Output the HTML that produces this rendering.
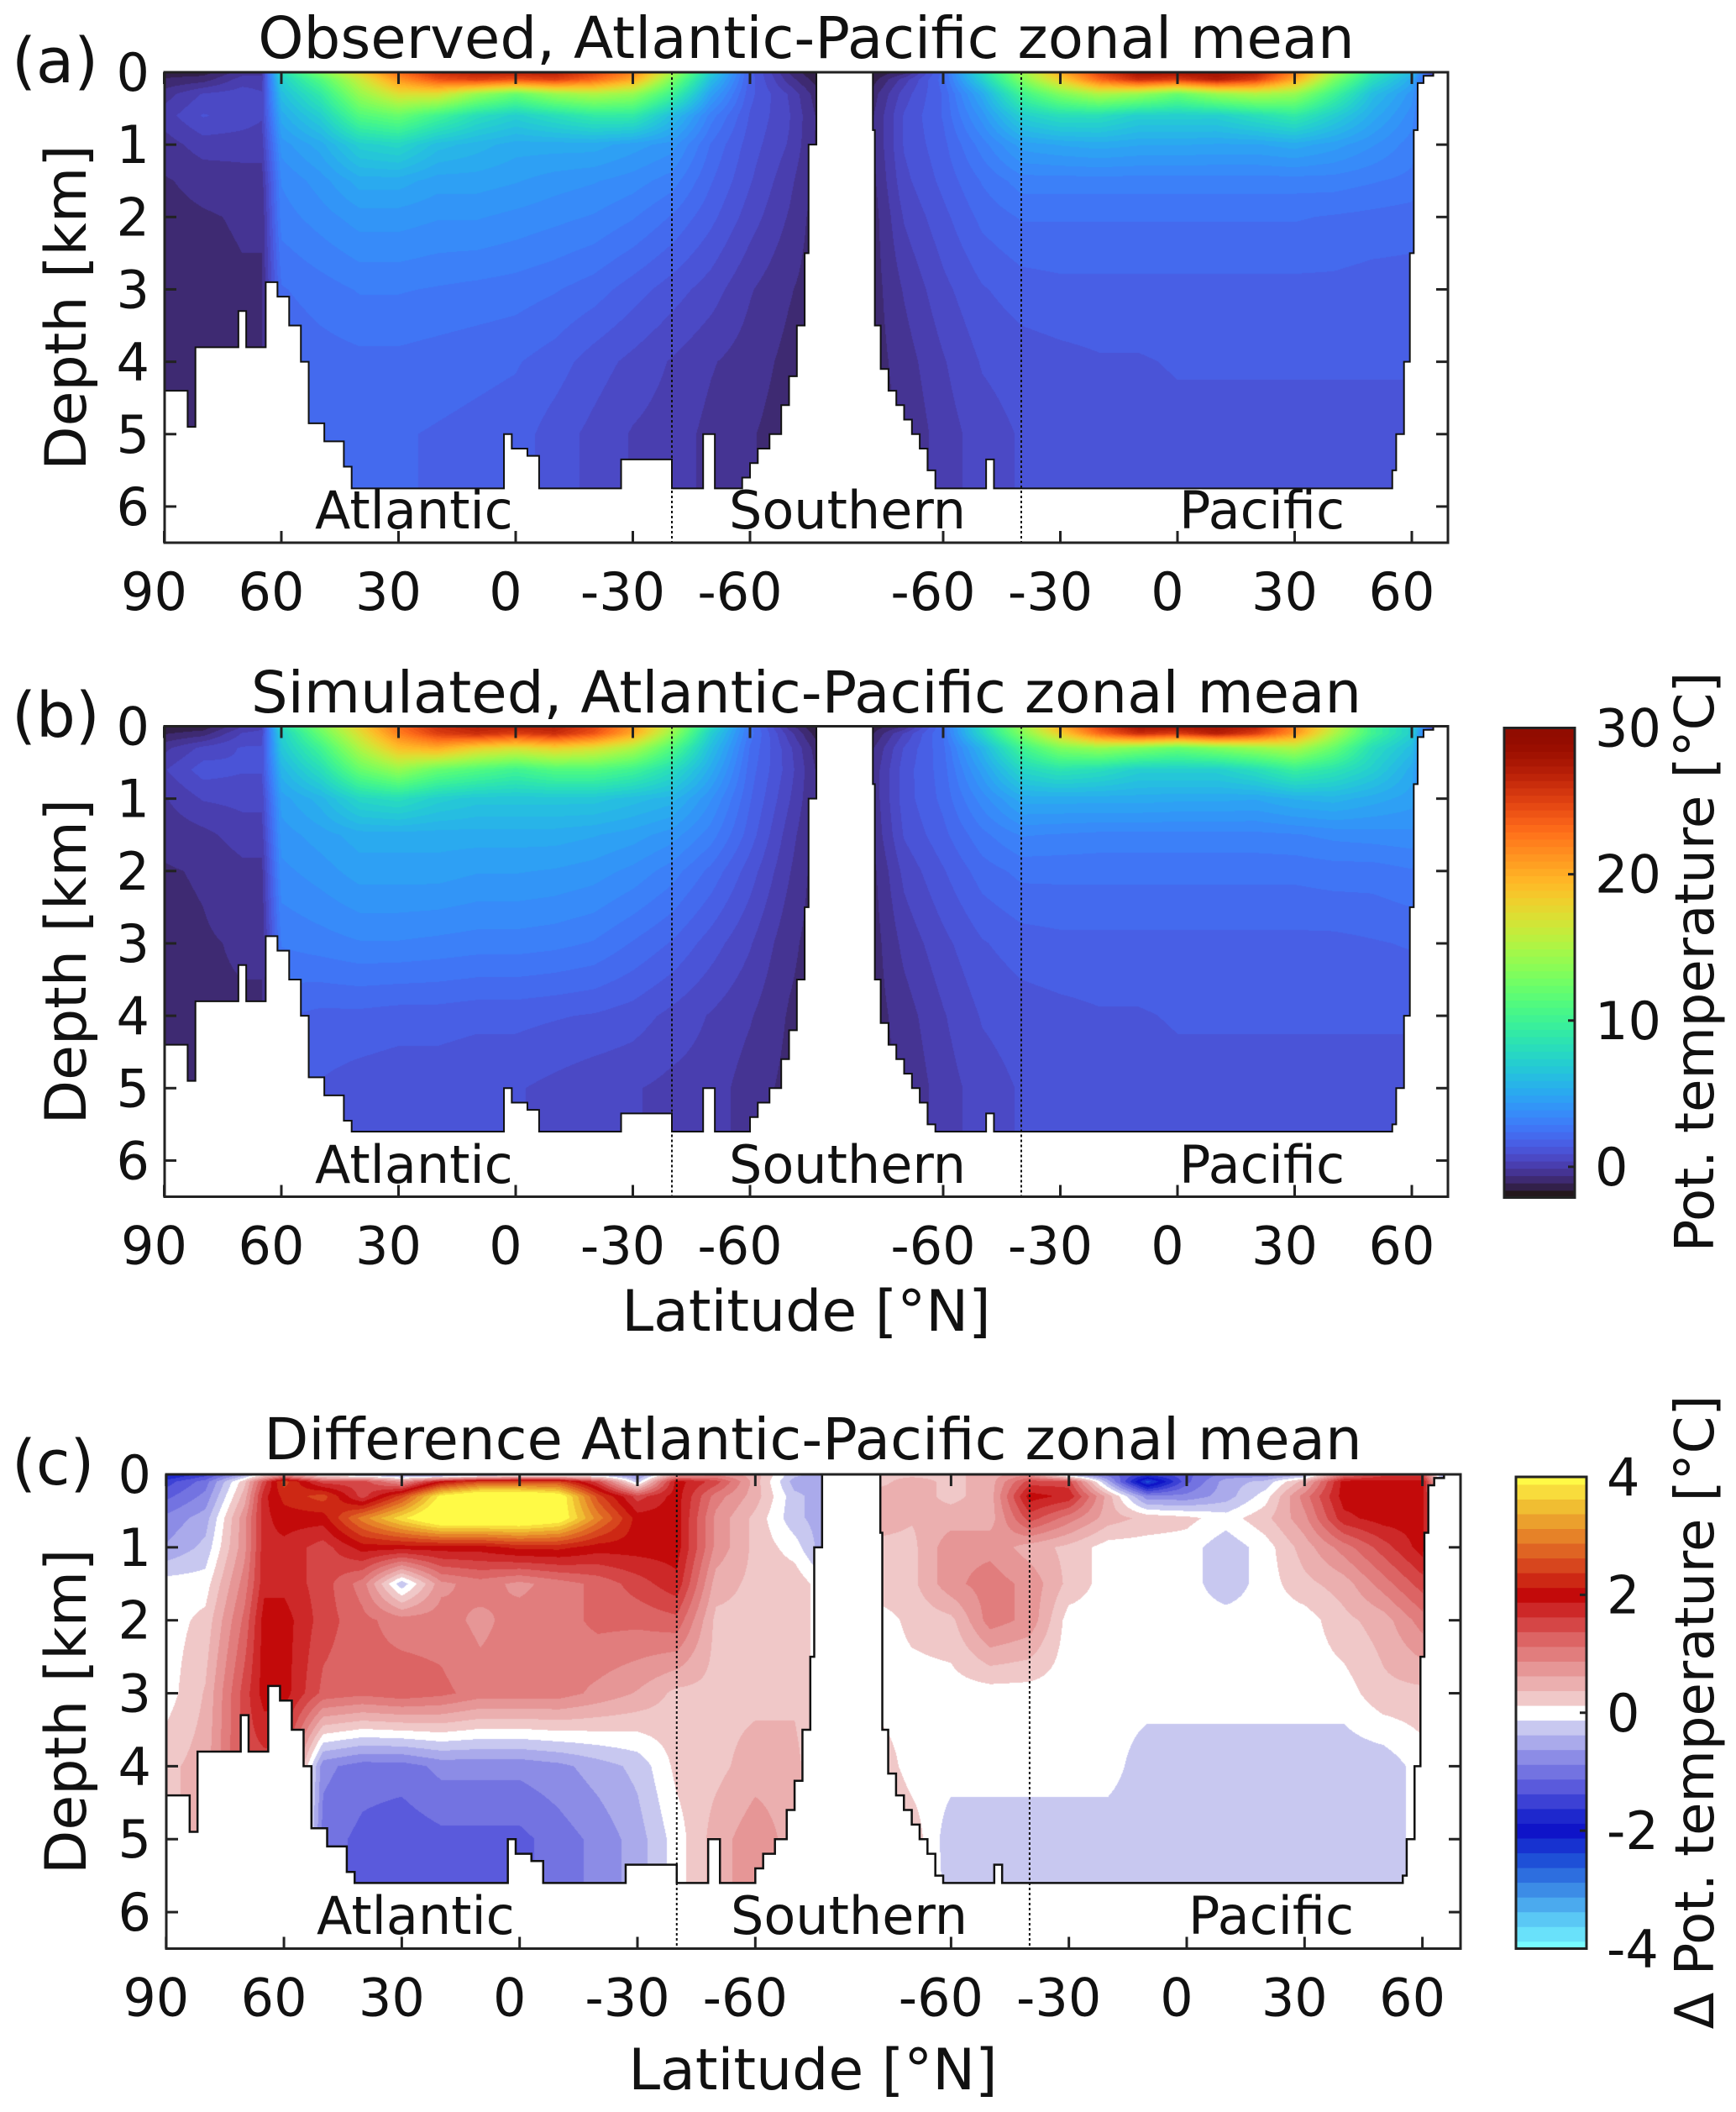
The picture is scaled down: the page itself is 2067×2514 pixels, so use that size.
<!DOCTYPE html>
<html><head><meta charset="utf-8"><style>
html,body{margin:0;padding:0;background:#fff;}
#wrap{position:relative;width:2067px;height:2514px;overflow:hidden;}
canvas,svg{position:absolute;left:0;top:0;}
text{font-family:"DejaVu Sans","Liberation Sans",sans-serif;fill:#111;}
</style></head><body>
<div id="wrap">
<canvas id="cv" width="2067" height="2514"></canvas>
<svg id="sv" width="2067" height="2514" xmlns="http://www.w3.org/2000/svg">
<text x="14" y="98" font-size="74">(a)</text>
<text x="960" y="69" font-size="69" text-anchor="middle">Observed, Atlantic-Pacific zonal mean</text>
<text x="14" y="877" font-size="74">(b)</text>
<text x="960" y="848" font-size="69" text-anchor="middle">Simulated, Atlantic-Pacific zonal mean</text>
<text x="14" y="1767" font-size="74">(c)</text>
<text x="968" y="1737" font-size="69" text-anchor="middle">Difference Atlantic-Pacific zonal mean</text>
<text x="960" y="1584" font-size="68" text-anchor="middle">Latitude [°N]</text>
<text x="968" y="2487" font-size="68" text-anchor="middle">Latitude [°N]</text>
<text transform="translate(2040,1145) rotate(-90)" font-size="64" text-anchor="middle">Pot. temperature [°C]</text>
<text transform="translate(2040,2038) rotate(-90)" font-size="64" text-anchor="middle">Δ Pot. temperature [°C]</text>
</svg>
</div>
<script>
// ---------- data ----------
const depths = [0,0.1,0.3,0.6,1,1.5,2,3,4,5,6];
const latsA = [90,80,70,65,60,50,40,30,20,10,0,-10,-20,-30,-40,-50,-60,-70,-77];
const latsP = [-78,-70,-60,-50,-40,-30,-20,-10,0,10,20,30,40,50,60,66];
// observed temperature, Atlantic side (one profile per latitude)
const obsA = [
[-1.5,-1.2,-0.5,0,-0.5,-0.8,-0.9,-0.9,-0.9,-0.9,-0.9],
[-1.5,-1,0.3,0.8,0,-0.6,-0.8,-0.9,-0.9,-0.9,-0.9],
[-0.5,0,0.5,0.5,0,-0.5,-0.7,-0.8,-0.8,-0.8,-0.8],
[-0.5,0,0.3,0.3,0,-0.5,-0.7,-0.8,-0.8,-0.8,-0.8],
[8,7,6,5,4,3.3,3,2.2,1.8,1.6,1.6],
[13,11,9,7,5,4,3.5,2.5,2,1.8,1.8],
[18,16,14,11,7,5,4,2.8,2.1,1.8,1.8],
[23,21,17,12,7.5,5,4,2.8,2.1,1.8,1.8],
[26,24,17,10,6,4.5,3.8,2.7,2,1.7,1.7],
[27,25,14,8,5.5,4.5,3.8,2.6,1.9,1.6,1.6],
[27,24,12,7,5,4.3,3.6,2.5,1.8,1.5,1.5],
[27,25,14,8,5,4,3.4,2.3,1.5,1,1],
[25,23,15,9,5,3.8,3.2,2,1,0.6,0.6],
[22,20,14,9,4.5,3.5,2.8,1.5,0.6,0.2,0.2],
[15,13,10,6,4,3,2.2,1,0.2,0,0],
[7,6,4.5,3,2.2,1.8,1.4,0.5,-0.2,-0.4,-0.4],
[1.5,1.5,1.4,1.2,1,0.8,0.5,-0.2,-0.5,-0.7,-0.7],
[-0.8,-0.5,0.2,0.3,0.2,-0.1,-0.3,-0.7,-0.9,-1,-1],
[-1.8,-1.5,-1,-0.8,-0.8,-0.9,-1,-1,-1,-1,-1]];
const obsP = [
[-1.8,-1.5,-1,-0.8,-0.8,-0.9,-1,-1,-1,-1,-1],
[-1,0,0.5,0.8,0.8,0.6,0.3,-0.2,-0.5,-0.7,-0.7],
[2,2,1.8,1.8,1.6,1.4,1.1,0.6,0.2,0,0],
[8,7,5,4,3,2.3,1.9,1.2,0.8,0.5,0.5],
[14,13,10,7,4.5,3,2.3,1.5,1,0.8,0.8],
[20,18,13,8,4.8,3,2.3,1.6,1.1,0.9,0.9],
[25,23,15,8,5,3,2.3,1.6,1.2,1,1],
[28,26,14,7,4.8,3,2.3,1.6,1.2,1,1],
[28,25,12,7,4.8,3,2.3,1.6,1.3,1.1,1.1],
[28,27,14,7,4.7,3,2.3,1.6,1.3,1.1,1.1],
[27,25,15,8,4.7,3,2.3,1.6,1.3,1.1,1.1],
[22,20,14,9,5,3,2.3,1.6,1.3,1.1,1.1],
[15,13,10,7,4.5,3,2.2,1.6,1.3,1.1,1.1],
[9,8,6,5,3.8,2.8,2.1,1.5,1.3,1.1,1.1],
[6,5,4,3.5,3,2.6,2,1.5,1.3,1.1,1.1],
[0,-0.5,0.5,1,1,1,1,1,1,1,1]];
// simulated temperature
const simA = [
[-1.7,-1.3,-0.4,0.2,-0.3,-0.6,-0.8,-0.9,-0.9,-0.9,-0.9],
[-1.6,-1,0.4,1,0.3,-0.4,-0.7,-0.8,-0.8,-0.8,-0.8],
[-0.3,0.3,0.8,0.8,0.4,0,-0.4,-0.7,-0.8,-0.8,-0.8],
[0,0.5,0.8,0.8,0.4,0,-0.4,-0.7,-0.8,-0.8,-0.8],
[8,7,6.5,5.5,4.5,4,3.6,2.8,1.8,1.4,1.4],
[13,12,10,8,5.5,4.5,4,3,1.6,1.2,1.2],
[18,17,15,12,7.5,5,4.5,3.2,1.6,1,1],
[23,22,19,14,8,5,4.5,3.2,1.5,0.9,0.9],
[26,25,20,12,7,5,4.5,3.1,1.5,0.9,0.9],
[27,26,18,11,6.5,5,4.3,3,1.4,0.8,0.8],
[27,25,17,10,6.5,5,4.3,3,1.4,0.8,0.8],
[27,26,18,11,6.5,5,4.2,2.9,1.3,0.6,0.6],
[25,24,17,11,6.5,4.8,4,2.7,1.2,0.4,0.4],
[21,20,15,10,6,4.5,3.6,2.2,1,0.3,0.3],
[15,14,11,8,5.5,4,3,1.7,0.6,0.1,0.1],
[8,7,6,5,3.8,3,2.1,1,0.2,0,0],
[2.5,2.5,2.2,2,1.8,1.5,1,0.3,-0.2,-0.5,-0.5],
[-0.5,0,0.4,0.5,0.3,0,-0.2,-0.6,-0.8,-0.9,-0.9],
[-1.8,-1.5,-1,-0.8,-0.8,-0.9,-1,-1,-1,-1,-1]];
const simP = [
[-1.6,-1.3,-0.8,-0.6,-0.6,-0.7,-0.9,-1,-1,-1,-1],
[-0.8,0.3,0.8,1,1,0.8,0.4,-0.1,-0.5,-0.7,-0.7],
[2.3,2.3,2.1,2,1.9,1.6,1.2,0.6,0.2,0,0],
[8,7.5,5.5,4.5,3.5,2.6,2,1.2,0.8,0.5,0.5],
[14,13,10,7.5,5,3.3,2.4,1.5,1,0.8,0.8],
[20,18,13,8.5,5,3.2,2.4,1.6,1.1,0.9,0.9],
[25,23,14,8,5,3.1,2.4,1.6,1.2,1,1],
[28,26,13,7,5,3.1,2.4,1.6,1.2,1,1],
[28,25,12,7,4.9,3.1,2.4,1.6,1.3,1.1,1.1],
[28,27,13,7,4.9,3.1,2.4,1.6,1.3,1.1,1.1],
[27,25,14,8,4.8,3.1,2.4,1.6,1.3,1.1,1.1],
[22,21,15,9.5,5.3,3.2,2.4,1.6,1.3,1.1,1.1],
[16,15,12,8.5,5.5,3.4,2.5,1.6,1.3,1.1,1.1],
[10,10,8,7,5,3.5,2.5,1.7,1.3,1.1,1.1],
[7,7,6,5,4.5,3.6,2.7,1.8,1.3,1.1,1.1],
[0,-0.5,0.5,1,1,1,1,1,1,1,1]];
// difference (simulated - observed)
const difA = [
[-2,-1.5,-1.2,-0.8,-0.6,0,0,0,0.3,0.3,0.3],
[-1.5,-1,-0.8,-0.5,-0.3,0,0.2,0.4,0.5,0.5,0.5],
[-0.5,0.3,0.5,0.8,0.8,1,1.2,1.5,1.5,1.5,1.5],
[0,1.5,1.8,1.8,1.8,1.8,2,2,1.5,1.5,1.5],
[0.5,2.5,2.2,2,1.8,1.8,2,2,1.5,1.5,1.5],
[-0.3,1.5,2.5,2,1.5,1.5,1.5,1.3,-0.8,-1,-1],
[-0.5,1.5,1.5,3,2,1,1.2,1.2,-1,-1.2,-1.2],
[-0.8,0.8,2.5,3.8,2,-0.3,1,1.3,-1,-1.3,-1.3],
[-1,2,4,4.5,2,0.8,1,1.2,-0.8,-1.2,-1.2],
[-0.8,2.5,4.5,4.5,2,1,0.8,1,-0.8,-1.2,-1.2],
[-0.5,2.5,4.5,4.5,2.2,0.8,1,1,-0.8,-1.2,-1.2],
[-0.5,2.5,4.2,4.2,2.2,1,1,1,-0.7,-1,-1],
[-0.5,1.5,2.5,3,2,1.2,1.2,0.8,-0.5,-0.8,-0.8],
[-0.8,-0.3,1.5,2,2,1.5,1.2,0.6,-0.3,-0.5,-0.5],
[0.5,2,2,2,2,1.8,1.3,0.3,0.2,0,0],
[0.8,1.5,1,0.8,0.8,0.5,0.3,0.3,0.3,0.5,0.5],
[0.5,0.5,0.5,0.3,0.3,0.3,0.3,0.3,0.5,0.8,0.8],
[-0.3,-0.5,-0.3,-0.3,0,0.3,0.3,0.3,0.5,0.5,0.5],
[-0.5,-0.5,-0.5,-0.5,-0.5,0,0,0,0,0,0]];
const difP = [
[0.3,0.3,0.5,0.5,0.3,0.3,0,0,0.3,0.5,0.5],
[0.3,0.5,0.5,0.4,0.3,0.3,0.2,0,0,0.3,0.5],
[0.3,0.3,0.3,0.5,0.8,0.8,0.3,0,0,-0.3,-0.3],
[0.5,0.5,0.5,0.5,0.8,1,1,0,0,-0.3,-0.3],
[0.8,1.5,2,1.5,0.5,0.8,0.8,0,0,-0.3,-0.3],
[-0.5,1.5,1.8,1,0.3,0.3,0,0,0,-0.3,-0.3],
[-1,-0.5,0.5,0.5,0,0,0,0,0,-0.3,-0.3],
[-1.5,-2.5,-0.8,0.3,0,0,0,0,-0.3,-0.3,-0.3],
[-1.2,-1.2,-0.8,0.2,0,0,0,0,-0.3,-0.3,-0.3],
[-0.8,-0.5,-0.5,0,-0.3,-0.3,0,0,-0.3,-0.3,-0.3],
[-0.8,-0.3,0,0.3,0,0,0,0,-0.3,-0.3,-0.3],
[-0.5,0.5,1,0.8,0.5,0.3,0,0,-0.3,-0.3,-0.3],
[1,2,2,1.8,1,0.5,0.3,0,-0.3,-0.3,-0.3],
[1.5,2,2,2,1.5,1,0.5,0.3,-0.3,-0.3,-0.3],
[1.5,2,2,2,2,1.5,1,0.3,0,0,0],
[-1,-0.5,0,0,0,0,0,0,0,0,0]];
// bathymetry (step function, km)
const botLatA = [90,84,82,71,69,64,61,58,55,53,49,44,42,38,3,1,-3,-6,-27,-40,-48,-51,-58,-60,-62,-65,-68,-70,-72,-74,-75,-77];
const botA = [4.4,4.9,3.8,3.3,3.8,2.9,3.1,3.5,4.0,4.85,5.1,5.45,5.8,5.8,5.0,5.2,5.3,5.8,5.35,5.8,5.0,5.8,5.6,5.4,5.2,5.0,4.6,4.2,3.5,2.5,1.0];
const botLatP = [-78,-77.5,-76,-74,-72,-70,-68,-66,-64,-62,-49,-47,55,56,58,59.5,60.5,61.5,63,65.5];
const botP = [0.8,3.5,4.1,4.4,4.6,4.8,5.0,5.2,5.5,5.8,5.35,5.8,5.5,5.0,4.0,2.5,0.8,0.15,0.05];
// ticks
const depthTicks = [0,1,2,3,4,5,6];
const atlTicks = [90,60,30,0,-30,-60];
const pacTicks = [-60,-30,0,30,60];
const tempTicks = [30,20,10,0];
const diffTicks = [4,2,0,-2,-4];

// ---------- layout ----------
const panels = [
 {id:'a', top:86, bottom:646, left:196, right:1724, x0A:614, x0P:1402, k:4.65, maxD:5.75, A:obsA, P:obsP, kind:'t', labY:629},
 {id:'b', top:864.5, bottom:1424.5, left:196, right:1724, x0A:614, x0P:1402, k:4.65, maxD:5.6, A:simA, P:simP, kind:'t', labY:1408},
 {id:'c', top:1755, bottom:2319.5, left:198, right:1739, x0A:618.7, x0P:1413, k:4.677, maxD:5.6, A:difA, P:difP, kind:'d', labY:2302}
];
const NS='http://www.w3.org/2000/svg';
const sv=document.getElementById('sv');
function el(tag,attrs,parent){const e=document.createElementNS(NS,tag);for(const k in attrs)e.setAttribute(k,attrs[k]);(parent||sv).appendChild(e);return e;}

function turbo(t){t=Math.max(0,Math.min(1,t));
 const r=0.13572138+t*(4.61539260+t*(-42.66032258+t*(132.13108234+t*(-152.94239396+t*59.28637943))));
 const g=0.09140261+t*(2.19418839+t*(4.84296658+t*(-14.18503333+t*(4.27729857+t*2.82956604))));
 const b=0.10667330+t*(12.64194608+t*(-60.58204836+t*(110.36276771+t*(-89.90310912+t*27.34824973))));
 return [r*255,g*255,b*255].map(v=>Math.max(0,Math.min(255,Math.round(v))));}
function tempColor(v){const q=Math.round(v*2)/2;return turbo((q+2)/32);}
const posA=[[0.25,[240,200,200]],[0.75,[230,150,150]],[1.25,[220,100,100]],[1.75,[205,40,40]],[2.0,[195,10,10]],[2.5,[215,70,30]],[3.0,[230,130,40]],[3.5,[240,190,50]],[4.0,[255,250,70]]];
const negA=[[0.25,[200,200,240]],[0.75,[140,140,230]],[1.25,[90,90,220]],[1.75,[30,40,205]],[2.0,[15,20,200]],[2.5,[30,80,215]],[3.0,[60,140,230]],[3.5,[90,200,245]],[4.0,[120,250,255]]];
function lerpAnch(an,a){if(a<=an[0][0])return an[0][1];for(let i=0;i<an.length-1;i++){if(a<=an[i+1][0]){const f=(a-an[i][0])/(an[i+1][0]-an[i][0]);return an[i][1].map((c,j)=>Math.round(c+f*(an[i+1][1][j]-c)));}}return an[an.length-1][1];}
function diffColor(v){const q=Math.round(v*4)/4;if(Math.abs(q)<0.125)return [255,255,255];const a=Math.min(4,Math.abs(q));return q>0?lerpAnch(posA,a):lerpAnch(negA,a);}

function bilin(lats,cols,lat,d){
 let i=0;const n=lats.length;
 const desc=lats[0]>lats[n-1];
 for(i=0;i<n-2;i++){ if(desc? lat>=lats[i+1] : lat<=lats[i+1]) break; }
 let fx=(lat-lats[i])/(lats[i+1]-lats[i]);fx=Math.max(0,Math.min(1,fx));
 let j=0;for(j=0;j<depths.length-2;j++){if(d<=depths[j+1])break;}
 let fy=(d-depths[j])/(depths[j+1]-depths[j]);fy=Math.max(0,Math.min(1,fy));
 const a=cols[i][j]*(1-fy)+cols[i][j+1]*fy, b=cols[i+1][j]*(1-fy)+cols[i+1][j+1]*fy;
 return a*(1-fx)+b*fx;}
function botAt(lats,bots,lat){const desc=lats[0]>lats[lats.length-1];
 for(let i=0;i<bots.length;i++){if(desc?(lat<=lats[i]&&lat>=lats[i+1]):(lat>=lats[i]&&lat<=lats[i+1]))return bots[i];}return -1;}

const cv=document.getElementById('cv');const ctx=cv.getContext('2d');
ctx.fillStyle='#fff';ctx.fillRect(0,0,2067,2514);

panels.forEach(p=>{
 const yD=d=>p.top+d*(p.bottom-p.top)/6.5;
 const xA=lat=>p.x0A-lat*p.k, xP=lat=>p.x0P+lat*p.k;
 const x0=Math.round(p.left), x1=Math.round(p.right), y0=Math.round(p.top), y1=Math.round(p.bottom);
 const W=x1-x0,H=y1-y0;const img=ctx.createImageData(W,H);
 const cmap=p.kind==='t'?tempColor:diffColor;
 for(let px=0;px<W;px++){
  const x=x0+px+0.5;let lats,cols,lat,bot;
  if(x<=xA(latsA[latsA.length-1])){lat=(p.x0A-x)/p.k;lats=latsA;cols=p.A;bot=botAt(botLatA,botA,lat);}
  else if(x>=xP(latsP[0])&&x<=xP(botLatP[botLatP.length-1])){lat=(x-p.x0P)/p.k;lats=latsP;cols=p.P;bot=botAt(botLatP,botP,lat);}
  else continue;
  bot=Math.min(bot,p.maxD);
  for(let py=0;py<H;py++){
   const d=(y0+py+0.5-p.top)/(p.bottom-p.top)*6.5;
   if(d>bot)break;
   const c=cmap(bilin(lats,cols,lat,d));const o=(py*W+px)*4;
   img.data[o]=c[0];img.data[o+1]=c[1];img.data[o+2]=c[2];img.data[o+3]=255;}
 }
 for(let i=0;i<img.data.length;i+=4){if(img.data[i+3]===0){img.data[i]=img.data[i+1]=img.data[i+2]=img.data[i+3]=255;}}
 ctx.putImageData(img,x0,y0);

 const g=el('g',{});
 
 
 let dA=`M${xA(botLatA[0])},${yD(Math.min(botA[0],p.maxD))}`;
 for(let i=0;i<botA.length;i++){dA+=` H${xA(botLatA[i+1])}`;if(i+1<botA.length)dA+=` V${yD(Math.min(botA[i+1],p.maxD))}`;}
 dA+=` V${p.top}`;
 const oa=el('path',{d:dA,fill:'none',stroke:'#111','stroke-width':p.kind==='d'?2.5:2},g);
 
 
 let dP=`M${xP(botLatP[0])},${p.top} V${yD(Math.min(botP[0],p.maxD))}`;
 for(let i=0;i<botP.length;i++){dP+=` H${xP(botLatP[i+1])}`;if(i+1<botP.length)dP+=` V${yD(Math.min(botP[i+1],p.maxD))}`;}
 dP+=` V${p.top}`;
 const op=el('path',{d:dP,fill:'none',stroke:'#111','stroke-width':p.kind==='d'?2.5:2},g);
 
 
 [xA(-40),xP(-40)].forEach((x,i)=>{const l=el('line',{x1:x,x2:x,y1:p.top,y2:p.bottom,stroke:'#111','stroke-width':2,'stroke-dasharray':'3,3'},g);
  
  });
 const bx=el('rect',{x:p.left,y:p.top,width:p.right-p.left,height:p.bottom-p.top,fill:'none',stroke:'#222','stroke-width':3},g);
 
 
 depthTicks.forEach(d=>{const y=yD(d);
  el('line',{x1:p.left,x2:p.left+14,y1:y,y2:y,stroke:'#222','stroke-width':3},g);
  el('line',{x1:p.right-14,x2:p.right,y1:y,y2:y,stroke:'#222','stroke-width':3},g);
  const t=el('text',{x:p.left-18,y:y+22,'font-size':62,'text-anchor':'end'},g);t.textContent=d;
  
  });
 const xt=[...atlTicks.map(v=>[xA(v),v]),...pacTicks.map(v=>[xP(v),v])];
 xt.forEach(([x,v])=>{
  el('line',{x1:x,x2:x,y1:p.bottom,y2:p.bottom-14,stroke:'#222','stroke-width':3},g);
  el('line',{x1:x,x2:x,y1:p.top,y2:p.top+14,stroke:'#222','stroke-width':3},g);
  const t=el('text',{x:x-12,y:p.bottom+80,'font-size':62,'text-anchor':'middle'},g);t.textContent=v;
  
  });
 const yl=el('text',{transform:`translate(102,${(p.top+p.bottom)/2}) rotate(-90)`,'font-size':68,'text-anchor':'middle'},g);yl.textContent='Depth [km]';
 
 
 [['Atlantic',p.left+179],['Southern',p.left+672],['Pacific',p.x0P+2]].forEach(([s,x])=>{
  const t=el('text',{x:x,y:p.labY,'font-size':62},g);t.textContent=s;
  
  });
});

function colorbar(x,y0,y1,vmin,vmax,step,cmap,ticks,name,offset){
 const g=el('g',{});
 
 
 const yv=v=>y1-(v-vmin)/(vmax-vmin)*(y1-y0);
 for(let v=vmin-offset;v<vmax;v+=step){const a=Math.max(v,vmin),b=Math.min(v+step,vmax);if(b<=a)continue;
  const c=cmap((a+b)/2);
  el('rect',{x:x,y:yv(b),width:84,height:yv(a)-yv(b)+0.6,fill:`rgb(${c[0]},${c[1]},${c[2]})`},g);}
 el('rect',{x:x,y:y0,width:84,height:y1-y0,fill:'none',stroke:'#222','stroke-width':3},g);
 ticks.forEach(v=>{const y=yv(v);el('line',{x1:x+76,x2:x+84,y1:y,y2:y,stroke:'#222','stroke-width':3},g);
  const t=el('text',{x:x+108,y:y+22,'font-size':62},g);t.textContent=v;
  
  });
}
colorbar(1791,866.5,1425.5,-2.1,30,0.5,tempColor,tempTicks,'colorbar-temperature',0);
colorbar(1805,1758,2319.5,-4,4,0.25,diffColor,diffTicks,'colorbar-difference',0.125);
</script>
</body></html>
